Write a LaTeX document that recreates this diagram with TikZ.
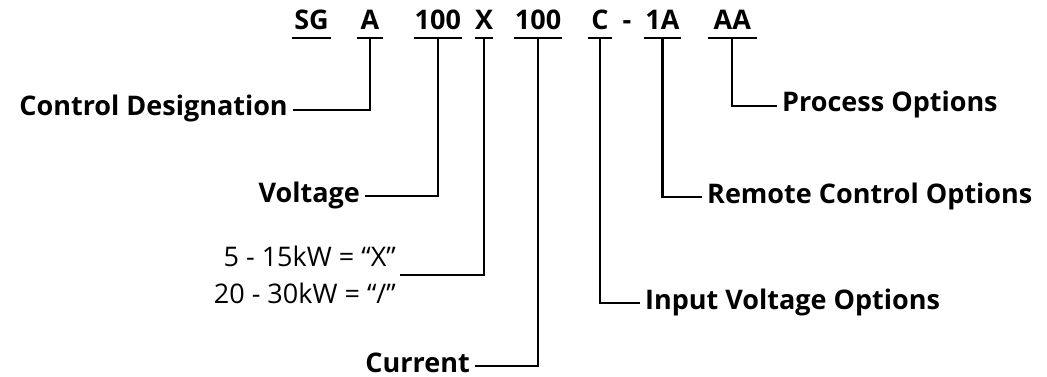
\documentclass[tikz,border=0pt]{standalone}
\usepackage{fontspec}
\setmainfont{Open Sans}
\usetikzlibrary{positioning}

\begin{document}
\begin{tikzpicture}[x=1pt, y=-1pt,
    code/.style={font=\bfseries\fontsize{27}{27}\selectfont, inner xsep=0pt, inner ysep=8pt, text depth=0pt, anchor=base},
    tag/.style={font=\bfseries\fontsize{27}{27}\selectfont, inner xsep=5pt, inner ysep=0pt, text height=18pt, text depth=6pt},
    note/.style={font=\fontsize{27}{37}\selectfont, align=right, inner xsep=4pt, inner ysep=0pt},
    wire/.style={line width=2.2pt}]
    \useasboundingbox (0,0) rectangle (1047,377);

    % model code
    \node [code, minimum width=39pt] (sg) at (311.5,30) {SG};
    \node [code, minimum width=25pt, right=26pt of sg.base east, anchor=base west] (a) {A};
    \node [code, minimum width=48pt, right=31pt of a.base east, anchor=base west] (volt) {100};
    \node [code, minimum width=18pt, right=13pt of volt.base east, anchor=base west] (x) {X};
    \node [code, minimum width=47pt, right=21pt of x.base east, anchor=base west] (amp) {100};
    \node [code, minimum width=24pt, right=26pt of amp.base east, anchor=base west] (c) {C};
    \node [code] (dash) at (627,30) {-};
    \node [code, minimum width=36pt, right=32pt of c.base east, anchor=base west] (rc) {1A};
    \node [code, minimum width=49pt, right=27pt of rc.base east, anchor=base west] (aa) {AA};

    \foreach \n in {sg, a, volt, x, amp, c, rc, aa}
        \draw [wire] (\n.south west) -- (\n.south east);

    % labels
    \node [tag, anchor=east] (ctrl) at (293,110) {Control Designation};
    \node [tag, anchor=east] (voltage) at (365,196) {Voltage};
    \node [note, anchor=east] (power) at (400,275) {5 - 15kW = “X”\\20 - 30kW = “/”};
    \node [tag, anchor=east] (current) at (475,366) {Current};
    \node [tag, anchor=west] (input) at (640,303) {Input Voltage Options};
    \node [tag, anchor=west] (remote) at (702,197) {Remote Control Options};
    \node [tag, anchor=west] (process) at (777,106) {Process Options};

    \draw [wire] (a.south) |- (ctrl.east);
    \draw [wire] (volt.south) |- (voltage.east);
    \draw [wire] (x.south) |- (power.east);
    \draw [wire] (amp.south) |- (current.east);
    \draw [wire] (c.south) |- (input.west);
    \draw [wire] (rc.south) |- (remote.west);
    \draw [wire] (aa.south) |- (process.west);
\end{tikzpicture}
\end{document}
